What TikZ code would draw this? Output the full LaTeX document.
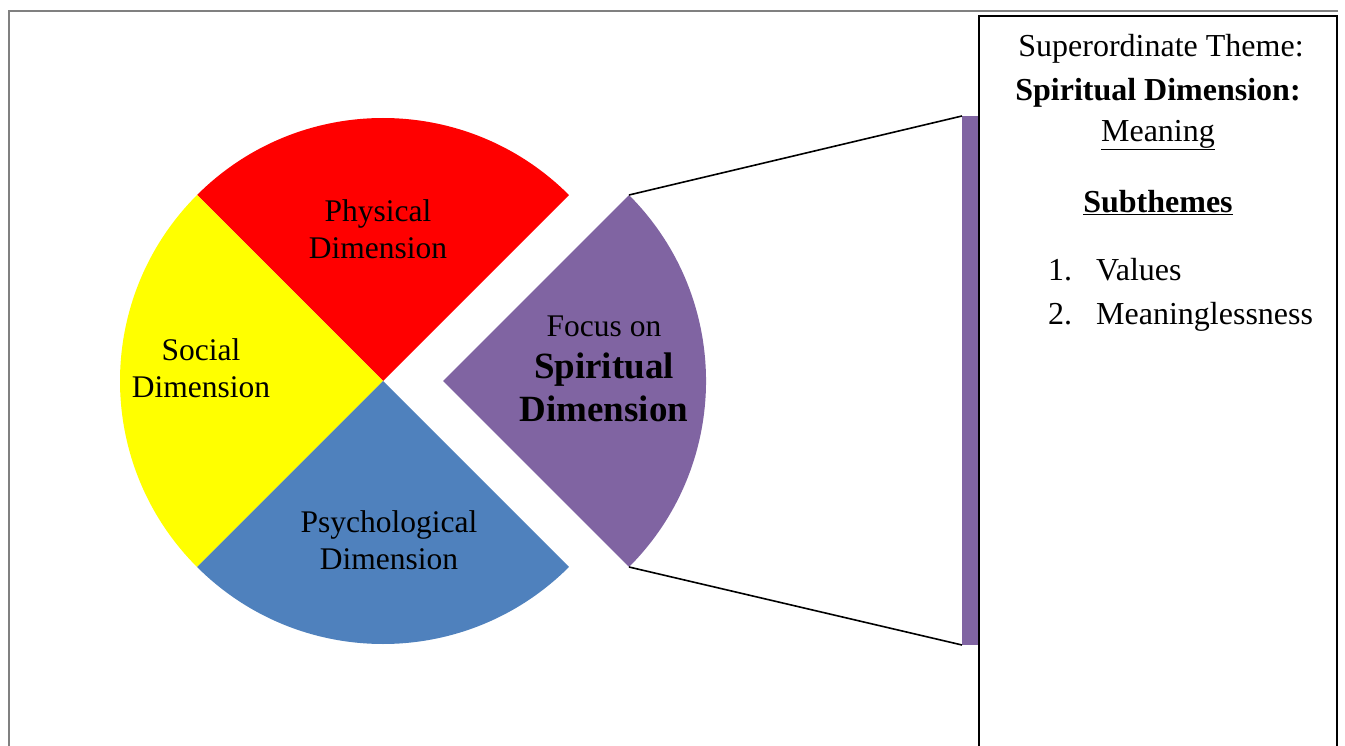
\documentclass[tikz,border=0pt]{standalone}
\usepackage{fontspec}
\setmainfont{Liberation Serif}
\begin{document}
\begin{tikzpicture}[x=1pt,y=-1pt,
  lbl/.style={align=center,inner sep=0pt,font=\fontsize{31.5}{37}\selectfont},
  big/.style={inner sep=0pt,font=\fontsize{37}{42}\selectfont\bfseries},
  boxtxt/.style={inner sep=0pt,font=\fontsize{32}{40}\selectfont},
  conn/.style={draw=black,line width=1.6pt}]
\useasboundingbox (0,0) rectangle (1345,746);
\definecolor{pred}{HTML}{FF0000}
\definecolor{pyel}{HTML}{FFFF00}
\definecolor{pblue}{HTML}{4F81BD}
\definecolor{ppur}{HTML}{8064A2}
\definecolor{frame}{gray}{0.5}
% page frame
\draw[frame,line width=2pt] (9,746) -- (9,11) -- (1338,11);
% pie: three quarters around the centre
\coordinate (c) at (383,381);
\fill[pred] (c) -- ++(45:263 and -263) arc[start angle=45,end angle=135,x radius=263,y radius=-263] -- cycle;
\fill[pyel] (c) -- ++(135:263 and -263) arc[start angle=135,end angle=225,x radius=263,y radius=-263] -- cycle;
\fill[pblue] (c) -- ++(225:263 and -263) arc[start angle=225,end angle=315,x radius=263,y radius=-263] -- cycle;
% detached spiritual quarter
\coordinate (sc) at (443,381);
\coordinate (stop) at (629,195);
\coordinate (sbot) at (629,567);
\fill[ppur] (sc) -- (sbot) arc[start angle=-45,end angle=45,x radius=263,y radius=-263] -- cycle;
% bar and theme box
\fill[ppur] (962,116) rectangle (979,645);
\coordinate (btop) at (962,116);
\coordinate (bbot) at (962,645);
\draw[conn] (stop) -- (btop);
\draw[conn] (sbot) -- (bbot);
\draw[black,line width=2pt] (979,760) -- (979,16) -- (1337,16) -- (1337,760);
% sector labels
\node[lbl] (phys) at (378,229) {Physical\\Dimension};
\node[lbl] (soc) at (201,368) {Social\\Dimension};
\node[lbl] (psy) at (389,540) {Psychological\\Dimension};
\node[lbl] (focus) at (604,326) {Focus on};
\node[big] (spir) at (604,370) {Spiritual};
\node[big] (sdim) at (604,409) {Dimension};
% theme box text
\node[boxtxt] (t1) at (1161,49) {Superordinate Theme:};
\node[boxtxt,font=\fontsize{32}{40}\selectfont\bfseries] (t2) at (1158,93) {Spiritual Dimension:};
\node[boxtxt] (t3) at (1158,135) {\underline{Meaning}};
\node[boxtxt,font=\fontsize{32}{40}\selectfont\bfseries] (t4) at (1158,203) {\underline{Subthemes}};
\node[boxtxt,anchor=base west] (n1) at (1048,280) {1.};
\node[boxtxt,anchor=base west] (v1) at (1096,280) {Values};
\node[boxtxt,anchor=base west] (n2) at (1048,324) {2.};
\node[boxtxt,anchor=base west] (v2) at (1096,324) {Meaninglessness};
\end{tikzpicture}
\end{document}
